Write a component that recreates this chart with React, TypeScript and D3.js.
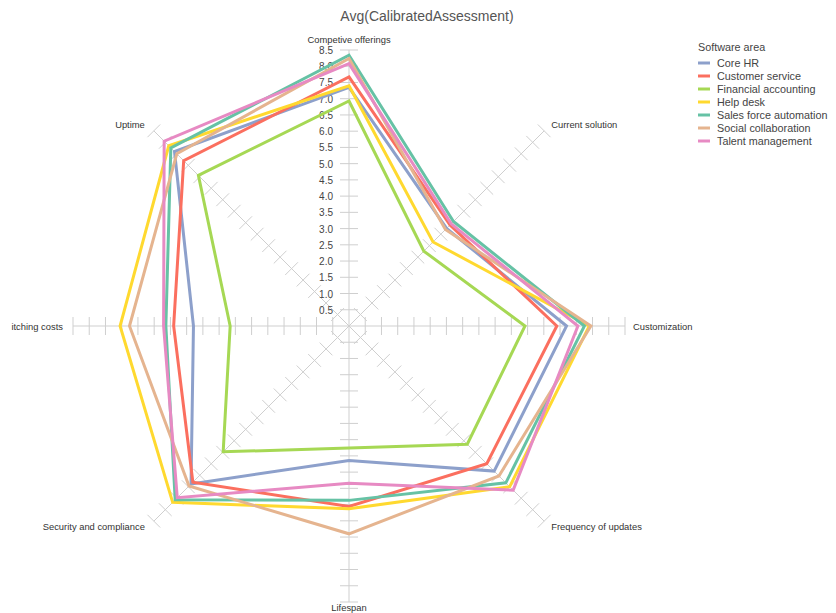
import React from "react";
import * as d3 from "d3";

const categories = [
  "Competive offerings",
  "Current solution",
  "Customization",
  "Frequency of updates",
  "Lifespan",
  "Security and compliance",
  "Switching costs",
  "Uptime",
];

const seriesNames = [
  "Core HR",
  "Customer service",
  "Financial accounting",
  "Help desk",
  "Sales force automation",
  "Social collaboration",
  "Talent management",
];

const coreHR = [7.35, 4.25, 6.7, 6.32, 4.14, 6.88, 4.79, 7.6];
const customerService = [7.67, 4.4, 6.4, 6.0, 5.56, 6.8, 5.4, 7.2];
const financialAccounting = [6.93, 3.26, 5.42, 5.15, 3.76, 5.48, 3.66, 6.56];
const helpDesk = [7.4, 3.66, 7.4, 7.0, 5.63, 7.68, 7.05, 7.85];
const salesForce = [8.34, 4.55, 7.25, 6.83, 5.37, 7.57, 5.64, 7.76];
const socialCollab = [8.24, 4.2, 7.45, 6.53, 6.4, 6.97, 6.76, 7.5];
const talentMgmt = [8.08, 4.45, 7.05, 7.15, 4.84, 7.48, 5.71, 8.05];

const seriesValues = [
  coreHR,
  customerService,
  financialAccounting,
  helpDesk,
  salesForce,
  socialCollab,
  talentMgmt,
];

const colors = [
  "#8DA0CB",
  "#FB6F5F",
  "#A6D854",
  "#FFD92F",
  "#66C2A5",
  "#E5B48F",
  "#E78AC3",
];

const tickValues = d3.range(1, 18).map((i) => i * 0.5);
const tickLabels = tickValues.map((v) => v.toFixed(1));

const W = 836;
const H = 613;
const cx = 349;
const cy = 326;
const R = 276;
const maxVal = 8.5;

export default function App() {
  const r = d3.scaleLinear().domain([0, maxVal]).range([0, R]);
  const n = categories.length;
  const angle = (i: number) => (i * 2 * Math.PI) / n;
  const pt = (i: number, v: number): [number, number] => [
    r(v) * Math.sin(angle(i)),
    -r(v) * Math.cos(angle(i)),
  ];
  const line = d3
    .lineRadial<number>()
    .angle((_d, i) => angle(i))
    .radius((d) => r(d))
    .curve(d3.curveLinearClosed);

  const gridColor = "#cfcfcf";
  const font = "'Liberation Sans', Arial, sans-serif";
  const tickHalf = 9;

  const labelEl = (i: number) => {
    const [x, y] = pt(i, maxVal);
    const a = angle(i);
    const s = Math.sin(a);
    const c = Math.cos(a);
    let text = categories[i];
    let anchor = "middle";
    let tx = x;
    let ty = y;
    if (Math.abs(s) < 1e-6) {
      anchor = "middle";
      ty = c > 0 ? y - 11 : y + 5;
    } else if (s > 0) {
      anchor = "start";
      tx = x + 7;
      ty = Math.abs(c) < 1e-6 ? y : c > 0 ? y - 6 : y + 5;
      if (Math.abs(c) < 1e-6) tx = x + 8;
    } else {
      anchor = "end";
      tx = x - 9;
      ty = Math.abs(c) < 1e-6 ? y : c > 0 ? y - 6 : y + 5;
      if (Math.abs(c) < 1e-6) {
        tx = x - 10;
        text = text.slice(2);
      }
    }
    return (
      <text
        key={"lab" + i}
        x={tx}
        y={ty}
        textAnchor={anchor}
        dominantBaseline="central"
        fontSize={9.4}
        fill="#333"
        fontFamily={font}
      >
        {text}
      </text>
    );
  };

  return (
    <svg
      width={W}
      height={H}
      style={{ position: "absolute", left: 0, top: 0, background: "#fff" }}
    >
      <text
        x={427}
        y={16}
        textAnchor="middle"
        dominantBaseline="central"
        fontSize={14}
        fill="#555"
        fontFamily={font}
      >
        Avg(CalibratedAssessment)
      </text>
      <g transform={`translate(${cx},${cy})`}>
        {categories.map((_c, i) => {
          const [x, y] = pt(i, maxVal);
          const a = angle(i);
          const px = Math.cos(a);
          const py = Math.sin(a);
          return (
            <g key={"ax" + i}>
              <line x1={0} y1={0} x2={x} y2={y} stroke={gridColor} strokeWidth={1} />
              {tickValues.map((v) => {
                const [tx, ty] = pt(i, v);
                return (
                  <line
                    key={v}
                    x1={tx - px * tickHalf}
                    y1={ty - py * tickHalf}
                    x2={tx + px * tickHalf}
                    y2={ty + py * tickHalf}
                    stroke={gridColor}
                    strokeWidth={1}
                  />
                );
              })}
            </g>
          );
        })}
        {tickValues.map((v, k) => (
          <text
            key={"tl" + k}
            x={-16}
            y={-r(v) + 0.5}
            textAnchor="end"
            dominantBaseline="central"
            fontSize={10}
            fill="#444"
            fontFamily={font}
          >
            {tickLabels[k]}
          </text>
        ))}
        {seriesValues.map((vals, si) => (
          <path
            key={"s" + si}
            d={line(vals) || ""}
            fill="none"
            stroke={colors[si]}
            strokeWidth={3}
            strokeLinejoin="miter"
          />
        ))}
      </g>
      <g transform={`translate(${cx},${cy})`}>{categories.map((_c, i) => labelEl(i))}</g>
      <g>
        <text
          x={698}
          y={47}
          dominantBaseline="central"
          fontSize={10.8}
          fill="#444"
          fontFamily={font}
        >
          Software area
        </text>
        {seriesNames.map((name, i) => (
          <g key={"lg" + i} transform={`translate(698,${63 + i * 13})`}>
            <line x1={0} y1={0} x2={12} y2={0} stroke={colors[i]} strokeWidth={3} />
            <text
              x={19}
              y={0}
              dominantBaseline="central"
              fontSize={10.8}
              fill="#444"
              fontFamily={font}
            >
              {name}
            </text>
          </g>
        ))}
      </g>
    </svg>
  );
}
